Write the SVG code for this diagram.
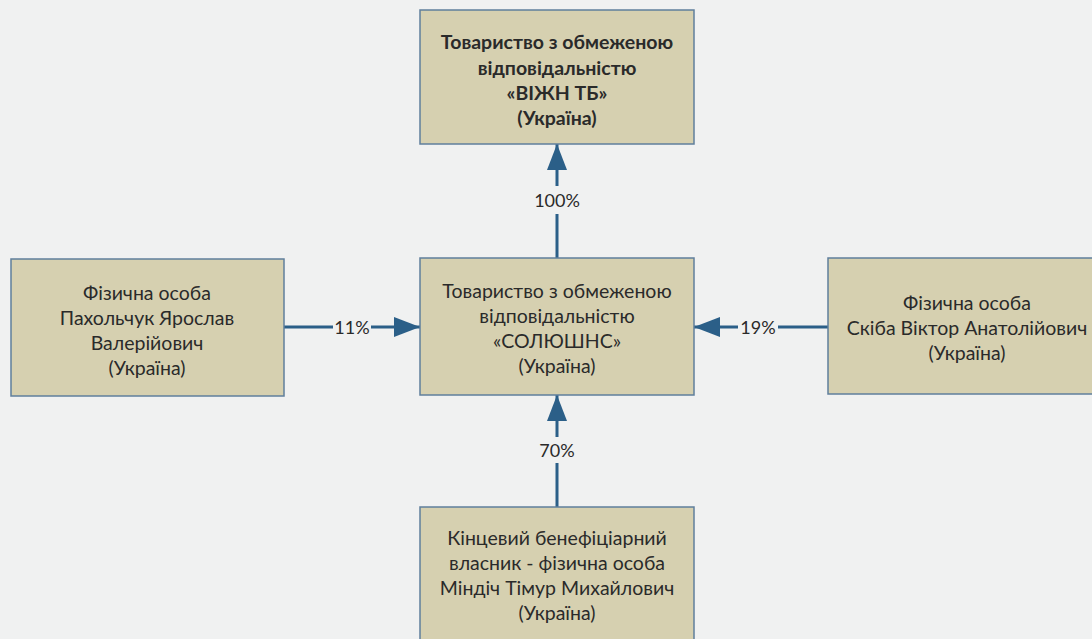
<svg xmlns="http://www.w3.org/2000/svg" width="1092" height="639" viewBox="0 0 1092 639">
<style>
.box{fill:#d6d0b0;stroke:#5f7f9c;stroke-width:1.5}
.t{font-family:Lato,"Open Sans","Liberation Sans",sans-serif;font-size:19.5px;fill:#2a2a2a;text-anchor:middle;dominant-baseline:central}
.b{font-weight:bold}
.c{stroke:#2b5f88;stroke-width:3;fill:none}
.lbl{font-family:Lato,"Open Sans","Liberation Sans",sans-serif;font-size:18px;fill:#2a2a2a;text-anchor:middle;dominant-baseline:central}
</style>
<defs>
<marker id="ah" viewBox="0 0 26 20" refX="26" refY="10" markerWidth="26" markerHeight="20" markerUnits="userSpaceOnUse" orient="auto">
<path d="M0,0 L26,10 L0,20 Z" fill="#2b5f88"/>
</marker>
</defs>
<rect width="1092" height="639" fill="#f0f1f1"/>
<g id="connectors">
<line class="c" x1="557" y1="258" x2="557" y2="214"/>
<line class="c" x1="557" y1="186" x2="557" y2="144" marker-end="url(#ah)"/>
<text class="lbl" x="557" y="200">100%</text>
<line class="c" x1="284" y1="327" x2="333" y2="327"/>
<line class="c" x1="371" y1="327" x2="420" y2="327" marker-end="url(#ah)"/>
<text class="lbl" x="352" y="327">11%</text>
<line class="c" x1="828" y1="327" x2="778" y2="327"/>
<line class="c" x1="738" y1="327" x2="694" y2="327" marker-end="url(#ah)"/>
<text class="lbl" x="758" y="327">19%</text>
<line class="c" x1="557" y1="507" x2="557" y2="463"/>
<line class="c" x1="557" y1="437" x2="557" y2="395" marker-end="url(#ah)"/>
<text class="lbl" x="557" y="450">70%</text>
</g>
<g id="n-vizhn">
<rect class="box" x="420" y="10" width="274" height="134"/>
<text class="t b" x="557" y="41">Товариство з обмеженою</text>
<text class="t b" x="557" y="67">відповідальністю</text>
<text class="t b" x="557" y="92">«ВІЖН ТБ»</text>
<text class="t b" x="557" y="117">(Україна)</text>
</g>
<g id="n-solutions">
<rect class="box" x="420" y="258" width="274" height="137"/>
<text class="t" x="557" y="290">Товариство з обмеженою</text>
<text class="t" x="557" y="315">відповідальністю</text>
<text class="t" x="557" y="340">«СОЛЮШНС»</text>
<text class="t" x="557" y="365">(Україна)</text>
</g>
<g id="n-pakholchuk">
<rect class="box" x="11" y="259" width="273" height="137"/>
<text class="t" x="147" y="292">Фізична особа</text>
<text class="t" x="147" y="317">Пахольчук Ярослав</text>
<text class="t" x="147" y="342">Валерійович</text>
<text class="t" x="147" y="367">(Україна)</text>
</g>
<g id="n-skiba">
<rect class="box" x="828" y="258" width="280" height="136"/>
<text class="t" x="967" y="302">Фізична особа</text>
<text class="t" x="967" y="327">Скіба Віктор Анатолійович</text>
<text class="t" x="967" y="352">(Україна)</text>
</g>
<g id="n-mindich">
<rect class="box" x="420" y="507" width="274" height="150"/>
<text class="t" x="557" y="537">Кінцевий бенефіціарний</text>
<text class="t" x="557" y="562">власник - фізична особа</text>
<text class="t" x="557" y="587">Міндіч Тімур Михайлович</text>
<text class="t" x="557" y="612">(Україна)</text>
</g>
</svg>
